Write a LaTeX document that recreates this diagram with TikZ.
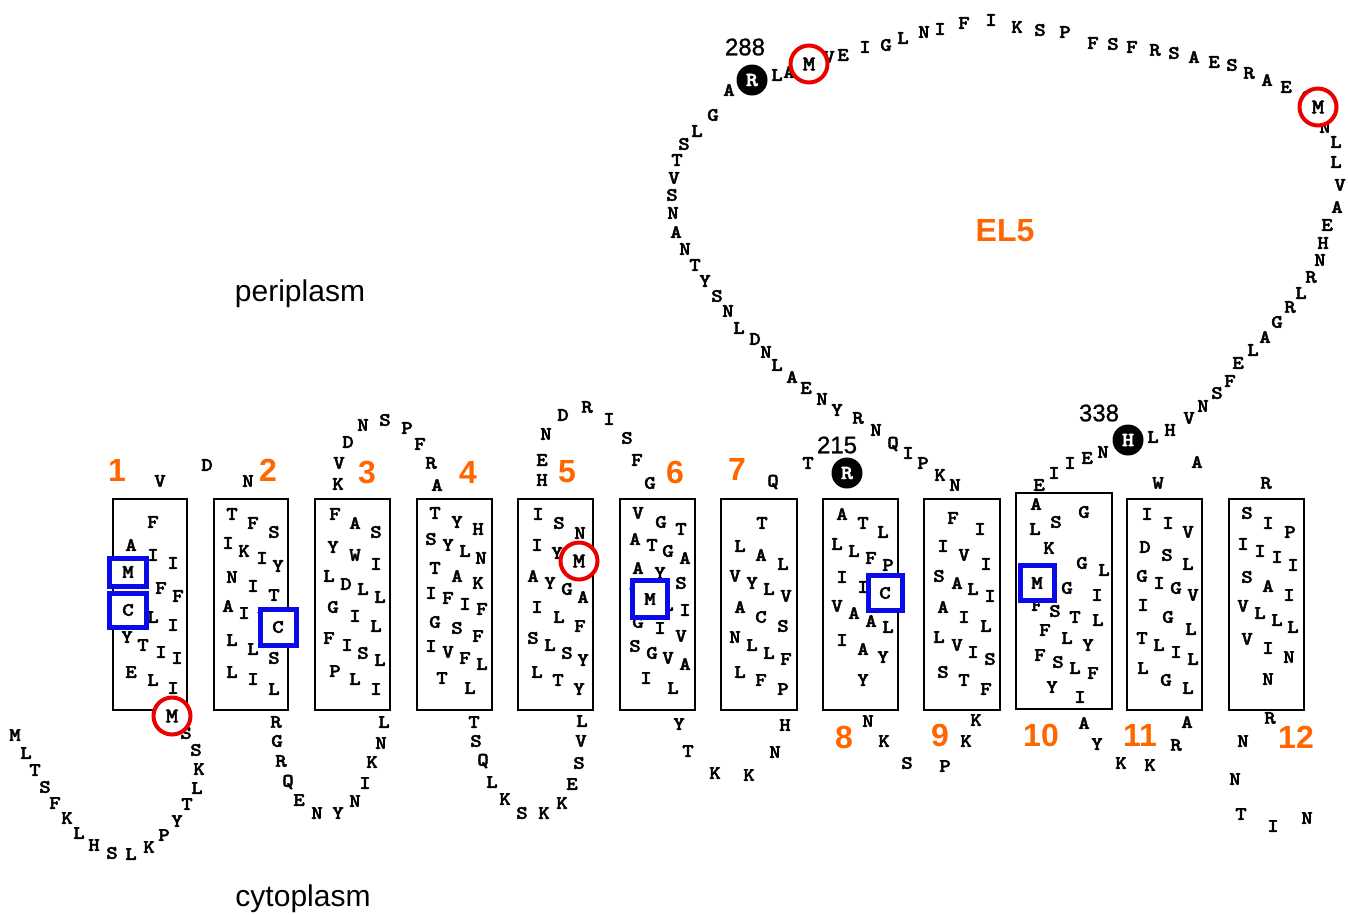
\documentclass[tikz,border=0pt]{standalone}
\usepackage{fontspec}
\newfontfamily\labelfont{Liberation Sans}
\newfontfamily\posfont{Liberation Sans}[FakeBold=1]
\newfontfamily\resfont{lmmonolt10-bold.otf}[FakeBold=2.2, FakeStretch=1.15]
\usetikzlibrary{shapes.geometric}
\definecolor{tmorange}{RGB}{255,102,0}
\definecolor{hitblue}{RGB}{10,10,235}
\definecolor{hitred}{RGB}{235,0,0}
\newcommand\residuelist[2]{%
  \foreach \x/\y/\t [count=\n] in {#2} {\node[res] (#1-\n) at (\x,\y) {\t};}}
\begin{document}
\begin{tikzpicture}[x=1pt,y=-1pt,
  res/.style={font=\fontsize{19}{19}\selectfont\resfont, inner sep=0pt},
  helixbox/.style={draw=black, line width=1.8pt},
  tmnum/.style={font=\fontsize{32}{32}\selectfont\labelfont\bfseries, text=tmorange, inner sep=0pt},
  posnum/.style={font=\fontsize{24}{24}\selectfont\posfont, inner sep=0pt},
  region/.style={font=\fontsize{30}{30}\selectfont\labelfont, inner sep=0pt},
  keyres/.style={circle, fill=black, text=white, minimum size=31pt, inner sep=0pt,
    font=\fontsize{20}{20}\selectfont\resfont},
  redring/.style={circle, draw=hitred, line width=4pt, fill=white, minimum size=37pt, inner sep=0pt,
    font=\fontsize{21}{21}\selectfont\resfont},
  bluebox/.style={draw=hitblue, line width=5pt, fill=white, inner sep=0pt,
    font=\fontsize{19}{19}\selectfont\resfont}]
\useasboundingbox[fill=white] (0,0) rectangle (1348,914);

% transmembrane segments
\draw[helixbox] (113,499) rectangle (187,710);
\draw[helixbox] (214,499) rectangle (288,710);
\draw[helixbox] (315,499) rectangle (390,710);
\draw[helixbox] (417,499) rectangle (492,710);
\draw[helixbox] (518,499) rectangle (593,710);
\draw[helixbox] (620,499) rectangle (695,710);
\draw[helixbox] (721,499) rectangle (797,710);
\draw[helixbox] (823,499) rectangle (898,710);
\draw[helixbox] (924,499) rectangle (1000,710);
\draw[helixbox] (1016,493) rectangle (1112,709);
\draw[helixbox] (1127,499) rectangle (1202,710);
\draw[helixbox] (1229,499) rectangle (1304,710);

% N-terminus (cytoplasm)
\residuelist{nt}{15/735/M,26/753/L,35/770/T,45/787/S,55/803/F,67/818/K,79/833/L,94/845/H,
  112/853/S,131/854/L,149/847/K,164/835/P,177/821/Y,187/804/T,197/788/L,199/769/K,196/750/S,186/733/S}

% TM1
\residuelist{tm1}{153/522/F,131/545/A,153/555/I,173/563/I,142/583/S,161/588/F,178/596/F,
  153/617/L,173/625/I,127/637/Y,143/645/T,161/652/I,177/658/I,131/672/E,153/680/L,173/688/I}
% loop 1-2
\residuelist{l12}{160/481/V,207/465/D,248/481/N}
% TM2
\residuelist{tm2}{232/514/T,253/523/F,274/532/S,228/543/I,244/551/K,262/558/I,278/566/Y,
  232/577/N,253/586/I,274/595/T,228/606/A,244/613/I,263/618/V,232/640/L,253/649/L,274/658/S,
  232/672/L,253/679/I,274/689/L}
% loop 2-3
\residuelist{l23}{276/722/R,277/741/G,281/761/R,288/782/Q,299/800/E,317/813/N,338/813/Y,
  355/801/N,365/783/I,372/762/K,381/743/N,384/722/L}
% TM3
\residuelist{tm3}{335/514/F,355/523/A,376/532/S,333/547/Y,355/555/W,376/564/I,329/576/L,
  346/584/D,363/589/L,380/597/L,333/607/G,355/616/I,376/626/L,329/638/F,347/645/I,363/653/S,
  380/660/L,335/671/P,355/679/L,376/689/I}
% loop 3-4
\residuelist{l34}{338/484/K,339/463/V,348/442/D,363/425/N,385/420/S,407/428/P,420/444/F,
  431/463/R,437/485/A}
% TM4
\residuelist{tm4}{435/513/T,457/522/Y,478/529/H,431/539/S,448/545/Y,465/551/L,481/558/N,
  435/568/T,457/576/A,478/583/K,431/593/I,448/598/F,465/604/I,482/609/F,435/622/G,457/628/S,
  478/636/F,431/646/I,448/652/V,465/658/F,482/664/L,442/678/T,470/688/L}
% loop 4-5
\residuelist{l45}{474/722/T,476/741/S,483/761/Q,492/782/L,505/799/K,522/813/S,544/813/K,
  562/803/K,572/784/E,579/763/S,581/741/V,582/721/L}
% TM5
\residuelist{tm5}{538/514/I,559/523/S,580/533/N,537/545/I,557/553/Y,533/576/A,550/583/Y,
  567/589/G,583/597/A,537/607/I,559/617/L,580/626/F,533/638/S,550/645/L,567/653/S,583/660/Y,
  537/672/L,558/680/T,579/689/Y}
% loop 5-6
\residuelist{l56}{542/480/H,542/460/E,546/434/N,563/415/D,587/407/R,609/419/I,627/438/S,
  637/460/F,650/483/G}
% TM6
\residuelist{tm6}{638/513/V,661/522/G,681/529/T,635/539/A,652/545/T,668/551/G,685/558/A,
  638/568/A,660/573/Y,681/583/S,635/593/T,668/605/L,685/610/I,638/622/G,660/628/I,681/636/V,
  635/646/S,652/653/G,668/658/V,685/664/A,646/678/I,673/688/L}
% loop 6-7
\residuelist{l67}{679/724/Y,688/751/T,715/773/K,749/775/K,775/752/N,785/725/H}
% TM7
\residuelist{tm7}{762/523/T,740/546/L,761/555/A,783/564/L,735/576/V,752/583/Y,769/589/L,
  786/596/V,740/607/A,761/617/C,783/626/S,735/637/N,752/645/L,769/653/L,786/659/F,740/672/L,
  761/680/F,783/689/P}
% loop 7-8
\residuelist{l78}{773/482/Q,808/463/T}
% TM8
\residuelist{tm8}{842/514/A,863/523/T,883/532/L,837/544/L,854/551/L,871/558/F,888/565/P,
  842/577/I,863/587/I,837/606/V,854/613/A,871/621/A,888/627/L,842/640/I,863/649/A,883/657/Y,
  863/680/Y}
% loop 8-9
\residuelist{l89}{868/721/N,884/741/K,907/763/S,945/766/P,966/741/K,976/720/K}
% TM9
\residuelist{tm9}{953/518/F,980/529/I,943/546/I,964/555/V,986/564/I,939/576/S,957/583/A,
  973/589/L,990/596/I,943/607/A,964/617/I,986/626/L,939/637/L,957/645/V,973/652/I,990/659/S,
  943/672/S,964/680/T,986/689/F}
% EL5 (periplasmic loop 9-10)
\residuelist{el5a}{955/485/N,940/475/K,923/463/P,908/453/I,893/444/Q,876/430/N,858/418/R,
  837/410/Y,822/399/N,806/388/E,792/377/A,777/365/L,766/352/N,755/339/D,739/328/L,728/311/N,
  717/296/S,705/281/Y,695/265/T,685/249/N,676/232/A,673/213/N,672/195/S,674/178/V,677/160/T,
  684/144/S,697/131/L,713/115/G,729/90/A}
\residuelist{el5b}{777/75/L,789/72/A,829/57/V,843/55/E,865/47/I,886/45/G,903/38/L,924/32/N,
  940/29/I,964/23/F,991/20/I,1017/27/K,1040/30/S,1065/32/P,1093/43/F,1113/44/S,1132/47/F,
  1155/50/R,1174/53/S,1194/57/A,1214/62/E,1232/65/S,1249/73/R,1267/80/A,1286/87/E,1307/97/S}
\residuelist{el5c}{1325/127/N,1336/142/L,1336/162/L,1340/185/V,1337/207/A,1327/225/E,
  1323/243/H,1320/260/N,1311/277/R,1301/293/L,1290/307/R,1277/322/G,1265/337/A,1253/350/L,
  1238/363/E,1230/381/F,1217/393/S,1203/406/N,1189/418/V,1170/430/H,1153/437/L}
\residuelist{el5d}{1103/452/N,1087/458/E,1070/463/I,1054/473/I,1039/485/E}
% TM10
\residuelist{tm10}{1036/504/A,1084/512/G,1056/522/S,1035/529/L,1049/548/K,1082/563/G,
  1104/570/L,1067/588/G,1097/595/I,1037/605/F,1055/611/S,1075/617/T,1098/620/L,1045/630/F,
  1067/638/L,1088/645/Y,1040/655/F,1058/662/S,1075/668/L,1093/673/F,1052/687/Y,1080/697/I}
% loop 10-11
\residuelist{l1011}{1084/723/A,1097/744/Y,1121/763/K,1150/765/K,1176/745/R,1187/722/A}
% TM11
\residuelist{tm11}{1147/514/I,1168/523/I,1188/532/V,1145/547/D,1167/555/S,1188/564/L,
  1142/576/G,1159/583/I,1176/588/G,1193/595/V,1143/605/I,1168/617/G,1191/629/L,1142/638/T,
  1159/645/L,1176/652/I,1193/659/L,1143/668/L,1166/680/G,1188/688/L}
% loop 11-12
\residuelist{l1112}{1158/483/W,1197/462/A,1266/483/R}
% TM12
\residuelist{tm12}{1247/513/S,1268/523/I,1290/532/P,1243/544/I,1260/551/I,1277/557/I,
  1293/565/I,1247/577/S,1268/586/A,1289/595/I,1243/606/V,1260/613/L,1277/620/L,1293/627/L,
  1247/639/V,1268/648/I,1289/657/N,1268/679/N}
% C-terminus
\residuelist{ct}{1270/718/R,1243/741/N,1235/779/N,1241/814/T,1273/826/I,1307/818/N}

% numbered key residues
\node[keyres] (r215) at (847,473) {R};
\node[keyres] (r288) at (752,80) {R};
\node[keyres] (h338) at (1128,440) {H};
\node[posnum] (p215) at (837,445) {215};
\node[posnum] (p288) at (745,47) {288};
\node[posnum] (p338) at (1099,413) {338};

% highlighted cysteines and methionines
\node[bluebox, minimum width=37pt, minimum height=28pt] (b1m) at (128,572) {M};
\node[bluebox, minimum width=37pt, minimum height=34pt] (b1c) at (128,610) {C};
\node[bluebox, minimum width=36pt, minimum height=36pt] (b2c) at (278,627) {C};
\node[bluebox, minimum width=35pt, minimum height=37pt] (b6m) at (650,599) {M};
\node[bluebox, minimum width=34pt, minimum height=35pt] (b8c) at (885,593) {C};
\node[bluebox, minimum width=34pt, minimum height=35pt] (b10m) at (1037,583) {M};

\node[redring] (c1m) at (172,716) {M};
\node[redring] (c5m) at (579,561) {M};
\node[redring] (c288m) at (809,64) {M};
\node[redring] (c300m) at (1318,107) {M};

% helix numbers
\foreach \x/\y/\t [count=\n] in {117/470/1,268/470/2,367/472/3,468/472/4,567/472/5,675/472/6,
  737/469/7,844/737/8,940/735/9,1041/735/10,1140/735/11,1296/737/12}
  {\node[tmnum] (tm-\n) at (\x,\y) {\t};}
\node[tmnum] (el5) at (1005,231) {EL5};

% compartments
\node[region] (peri) at (300,294) {periplasm};
\node[region] (cyto) at (303,899) {cytoplasm};
\end{tikzpicture}
\end{document}
